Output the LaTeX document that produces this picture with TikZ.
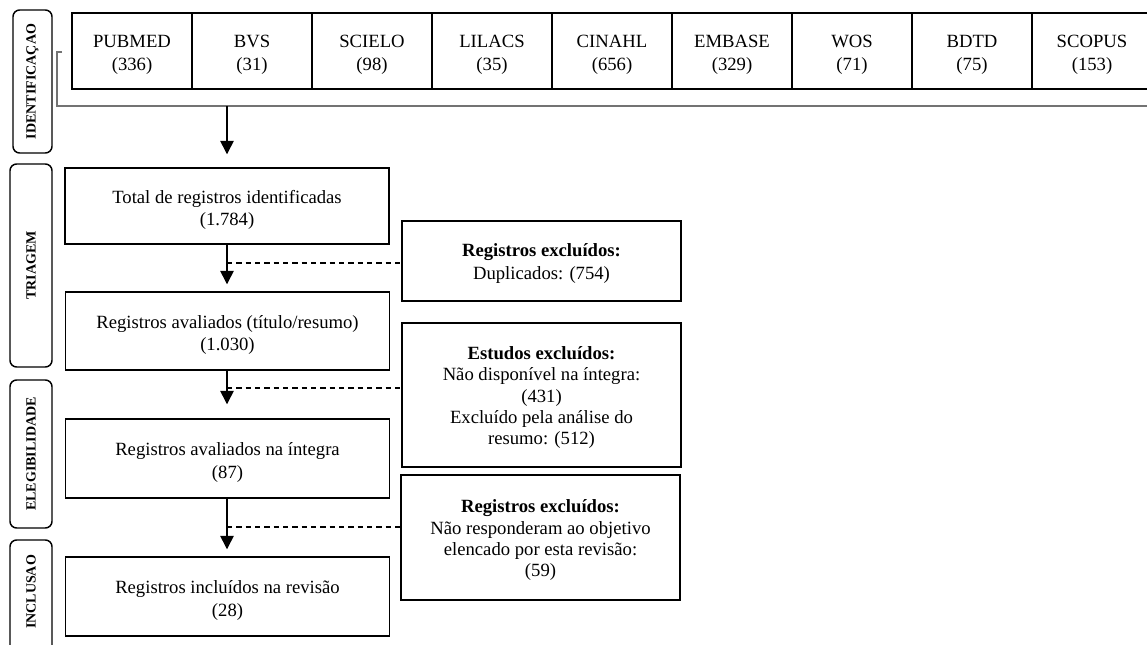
\documentclass[tikz,border=0pt]{standalone}
\usepackage{fontspec}
\setmainfont{Liberation Serif}
\usetikzlibrary{arrows.meta,calc}
\begin{document}
\begin{tikzpicture}[x=0.75pt,y=-0.75pt,
  box/.style={draw, line width=1.1pt, inner sep=0pt},
  txt/.style={inner sep=0pt, align=center, font=\fontsize{14}{16.8}\selectfont},
  mainbox/.style={box, minimum width=243pt},
  dbbox/.style={box, line width=1.5pt, minimum width=90pt, minimum height=57pt},
  exbox/.style={box, minimum width=209.25pt},
  phase/.style={draw, line width=1.1pt, rounded corners=5pt, inner sep=0pt, minimum width=31.5pt},
  phasetext/.style={rotate=90, inner sep=0pt, font=\bfseries\fontsize{10.5}{12}\selectfont},
  flow/.style={line width=1.1pt, -{Triangle[width=10pt,length=10pt]}},
  dashline/.style={line width=0.9pt, dash pattern=on 4pt off 3pt},
  bracket/.style={line width=1.6pt, draw=black!55}
]
\useasboundingbox (0,0) rectangle (1147,644);
\clip (0,0) rectangle (1147,644);

% phase labels
\node[phase, minimum width=29.25pt, minimum height=107.25pt] (p1) at (32.5,81.5) {};
\node[phasetext] (p1t) at (p1.center) {IDENTIFICAÇAO};
\node[phase, minimum height=152.25pt] (p2) at (31,265.5) {};
\node[phasetext] (p2t) at (p2.center) {TRIAGEM};
\node[phase, minimum height=111pt] (p3) at (31,454) {};
\node[phasetext] (p3t) at (p3.center) {ELEGIBILIDADE};
\node[phase, minimum height=105pt] (p4) at (31,610) {};
\node[phasetext] (p4t) at (31,592) {INCLUSAO};

% databases
\foreach \i/\nm/\n [count=\k from 0] in {1/PUBMED/336, 2/BVS/31, 3/SCIELO/98, 4/LILACS/35, 5/CINAHL/656, 6/EMBASE/329, 7/WOS/71, 8/BDTD/75, 9/SCOPUS/153}{
  \node[dbbox] (d\i) at (132+120*\k,51) {};
  \node[txt] (d\i t) at ([yshift=-3pt]d\i.center) {\nm\\(\n)};
}

% bracket
\coordinate (bt) at (62,52);
\coordinate (bc) at (57,106);
\coordinate (be) at (1160,106);
\coordinate (ba) at (227,106);
\draw[bracket] (bt) -- (bt -| bc) -- (bc) -- (be);

% main flow
\node[mainbox, minimum height=57pt] (m1) at (227,206) {};
\node[txt] (m1t) at ([yshift=-3pt]m1.center) {Total de registros identificadas\\(1.784)};
\node[mainbox, minimum height=58.5pt] (m2) at (227.5,331) {};
\node[txt] (m2t) at ([yshift=-3pt]m2.center) {Registros avaliados (título/resumo)\\(1.030)};
\node[mainbox, minimum height=59.25pt] (m3) at (227.5,458.5) {};
\node[txt] (m3t) at ([yshift=-3pt]m3.center) {Registros avaliados na íntegra\\(87)};
\node[mainbox, minimum height=59.25pt] (m4) at (227.5,596.5) {};
\node[txt] (m4t) at ([yshift=-3pt]m4.center) {Registros incluídos na revisão\\(28)};

% exclusion boxes
\node[exbox, minimum height=60pt] (e1) at (541.5,261) {};
\node[txt] (e1t) at ([yshift=-2pt]e1.center) {\textbf{Registros excluídos:}\\Duplicados: (754)};
\node[exbox, minimum height=108pt] (e2) at (541.5,395) {};
\node[txt, font=\fontsize{14}{16}\selectfont] (e2t) at ([yshift=-2pt]e2.center) {\textbf{Estudos excluídos:}\\Não disponível na íntegra:\\(431)\\Excluído pela análise do\\resumo: (512)};
\node[exbox, minimum height=93.75pt] (e3) at (540.5,537.5) {};
\node[txt, font=\fontsize{14}{16}\selectfont] (e3t) at ([yshift=-2pt]e3.center) {\textbf{Registros excluídos:}\\Não responderam ao objetivo\\elencado por esta revisão:\\(59)};

% arrows
\draw[flow, shorten >=9.75pt] (ba) -- (m1.north -| ba);
\draw[flow, shorten >=5.25pt] (m1.south -| ba) -- (m2.north -| ba);
\draw[flow, shorten >=10.5pt] (m2.south -| ba) -- (m3.north -| ba);
\draw[flow, shorten >=5.25pt] (m3.south -| ba) -- (m4.north -| ba);

% dashed connectors
\coordinate (j1) at (227,263);
\coordinate (j2) at (227,388);
\coordinate (j3) at (227,527);
\draw[dashline] (j1) -- (j1 -| e1.west);
\draw[dashline] (j2) -- (j2 -| e2.west);
\draw[dashline] (j3) -- (j3 -| e3.west);
\end{tikzpicture}
\end{document}
